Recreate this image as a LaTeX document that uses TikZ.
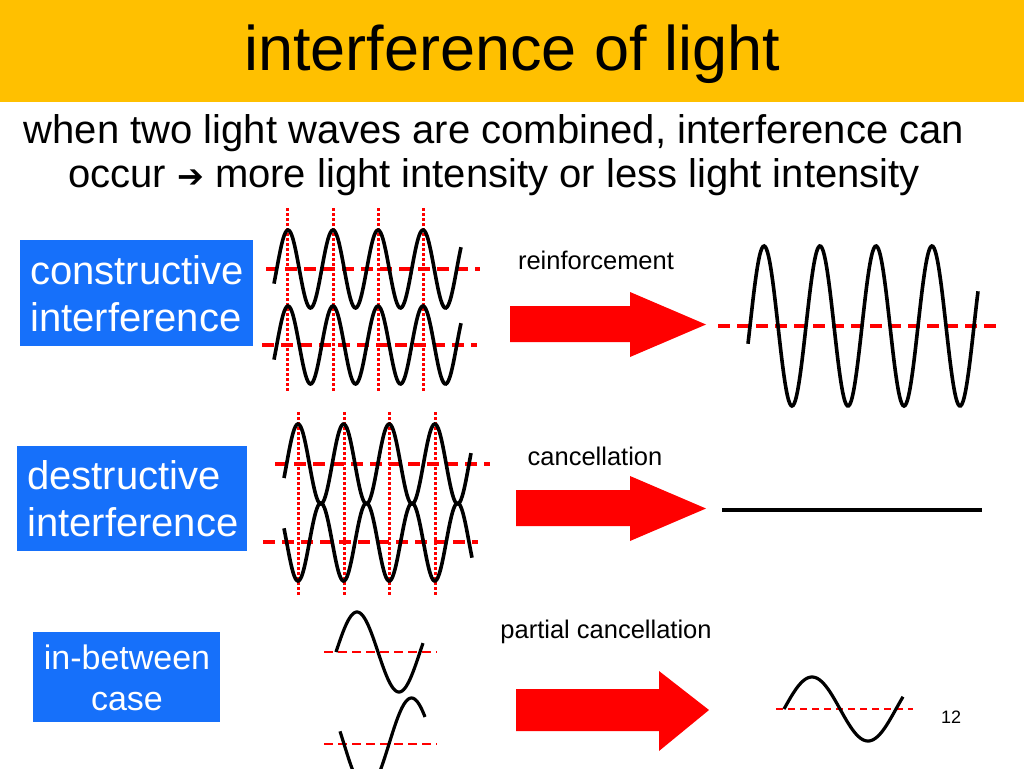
\documentclass[tikz,border=0pt]{standalone}
\usepackage{fontspec}
\setmainfont{Liberation Sans}
\newfontfamily\djv{DejaVu Sans}
\definecolor{ttl}{HTML}{FFC000}
\definecolor{bl}{HTML}{1670FA}
\begin{document}
\begin{tikzpicture}[x=1pt,y=-1pt,
 wave/.style={black,line width=3.6pt},
 axisl/.style={red,line width=3.2pt,dash pattern=on 12pt off 7pt},
 dotl/.style={red,line width=3pt,dash pattern=on 2.5pt off 2.5pt},
 bbox/.style={fill=bl,text=white,font=\fontsize{40}{47}\selectfont,inner sep=0pt},
 lbl/.style={font=\fontsize{25.5}{30}\selectfont},
 bigarrow/.style={fill=red,draw=none}]
\useasboundingbox (0,0) rectangle (1024,768);
\fill[ttl] (0,0) rectangle (1024,102);
\node (title) at (512,54) {\fontsize{63}{68}\selectfont interference of light};
\node (l1) at (494,133) {\fontsize{40}{46}\selectfont when two light waves are combined, interference can};
\node (l2) at (494,177) {\fontsize{40}{46}\selectfont occur {\djv\fontsize{32}{46}\selectfont ➔} more light intensity or less light intensity};
% boxes
\fill[bl] (20,240) rectangle (253,346);
\node[bbox,fill=none,align=left,anchor=west] (cb) at (30,294) {constructive\\interference};
\fill[bl] (17,446) rectangle (247,551);
\node[bbox,fill=none,align=left,anchor=west] (db) at (27,499) {destructive\\interference};
\fill[bl] (33,632) rectangle (220,722);
\node[bbox,fill=none,align=center,font=\fontsize{34}{41}\selectfont] (ib) at (127,678) {in-between\\case};
% labels
\node[lbl] (r) at (596,260) {reinforcement};
\node[lbl] (c) at (595,456) {cancellation};
\node[lbl] (p) at (606,632) {partial cancellation};
\node[font=\fontsize{18}{20}\selectfont] (n) at (951,717) {12};
% arrows
\fill[bigarrow] (510,306) -- (630,306) -- (630,292) -- (706,324.5) -- (630,357) -- (630,342) -- (510,342) -- cycle;
\fill[bigarrow] (516,490) -- (630,490) -- (630,476) -- (706,508.5) -- (630,541) -- (630,526) -- (516,526) -- cycle;
\fill[bigarrow] (516,689) -- (659,689) -- (659,671) -- (709,710) -- (659,751) -- (659,731) -- (516,731) -- cycle;
% constructive
\foreach \xx in {287,333,378,423} \draw[dotl] (\xx,208) -- (\xx,392);
\draw[axisl] (266,269) -- (480,269);
\draw[axisl] (262,345) -- (477,345);
\draw[wave] plot[domain=274:461,samples=150,smooth] (\x,{269-39*sin(360*((\x-276.75)/45))});
\draw[wave] plot[domain=274:461,samples=150,smooth] (\x,{345-39*sin(360*((\x-276.75)/45))});
\draw[axisl] (718,326) -- (1002,326);
\draw[wave] plot[domain=748:978,samples=200,smooth] (\x,{326-80*sin(360*((\x-750)/56))});
% destructive
\foreach \xx in {298,344,389,435} \draw[dotl] (\xx,412) -- (\xx,595);
\draw[axisl] (275,464) -- (490,464);
\draw[axisl] (263,542) -- (478,542);
\draw[wave] plot[domain=284:471,samples=150,smooth] (\x,{464-40*sin(360*((\x-286.6)/45.6))});
\draw[wave] plot[domain=284:472,samples=150,smooth] (\x,{542+39*sin(360*((\x-286.6)/45.6))});
\draw[black,line width=3.6pt] (722,510) -- (982,510);
% in-between
\draw[axisl,line width=2.6pt,dash pattern=on 9pt off 5pt] (324,652) -- (437,652);
\draw[axisl,line width=2.6pt,dash pattern=on 9pt off 5pt] (324,744) -- (437,744);
\draw[wave,line width=3.2pt] plot[domain=336:423,samples=100,smooth] (\x,{652-40*sin(360*((\x-336)/84))});
\draw[wave,line width=3.2pt] plot[domain=340:425,samples=100,smooth] (\x,{744-46*sin(360*((\x-389)/90))});
\draw[red,line width=1.8pt,dash pattern=on 7pt off 5pt] (776,709) -- (913,709);
\draw[wave,line width=3.2pt] plot[domain=784:903,samples=100,smooth] (\x,{709-32*sin(360*((\x-784)/112))});
\end{tikzpicture}
\end{document}
